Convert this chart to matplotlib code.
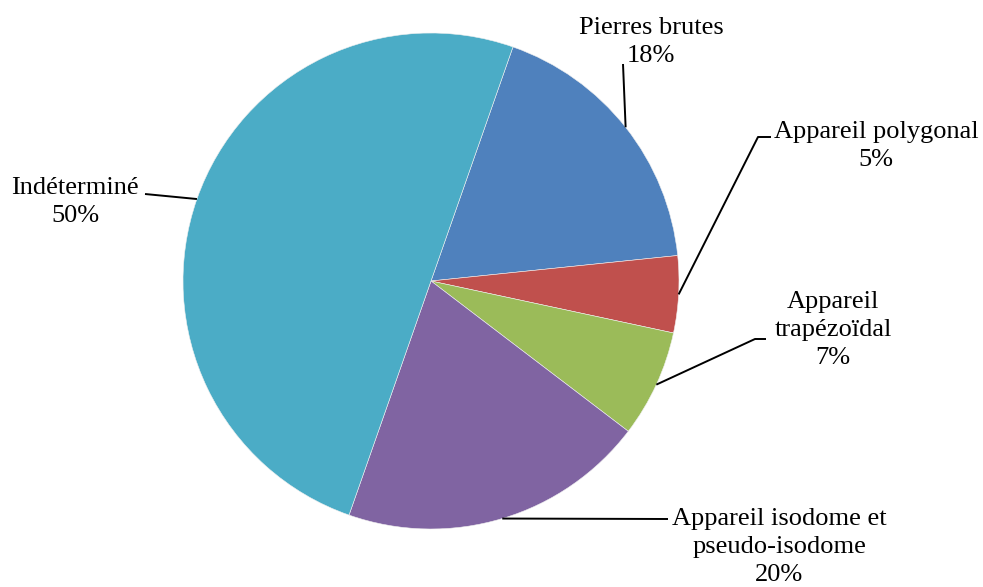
import numpy as np
import matplotlib
matplotlib.use('Agg')
import matplotlib.pyplot as plt

plt.rcParams['font.family'] = ['Liberation Serif', 'DejaVu Serif']

labels = ['Pierres brutes', 'Appareil polygonal', 'Appareil\ntrapézoïdal',
          'Appareil isodome et\npseudo-isodome', 'Indéterminé']
values = [18, 5, 7, 20, 50]
colors = ['#4F81BD', '#C0504D', '#9BBB59', '#8064A2', '#4BACC6']

W, H = 983, 587
cx, cy, r = 431, H - 281, 248
start = 19.3  # degrees clockwise from 12 o'clock

# label text centre (pixels, y down) and elbow of leader line
text_pos = [(651, 42), (876, 146), (833, 330), (779, 547), (75, 202)]
elbows = [[(623, 64)], [(758, 137), (771, 137)], [(755, 339), (766, 339)],
          [(668, 519)], [(145, 194)]]

fig = plt.figure(figsize=(W / 100, H / 100), dpi=100)
ax = fig.add_axes([0, 0, 1, 1])

ax.pie(values, colors=colors, startangle=90 - start, counterclock=False,
       center=(cx, cy), radius=r, frame=True,
       wedgeprops=dict(edgecolor='#f0f0f0', linewidth=0.4))
ax.set_xlim(0, W)
ax.set_ylim(0, H)
ax.set_aspect('equal')
ax.axis('off')

total = sum(values)
acc = start
for lab, v, tp, el in zip(labels, values, text_pos, elbows):
    mid = np.radians(acc + v / total * 360 / 2)
    acc += v / total * 360
    px = cx + r * np.sin(mid)
    py = cy + r * np.cos(mid)
    xs = [px] + [e[0] for e in el]
    ys = [py] + [H - e[1] for e in el]
    ax.plot(xs, ys, color='black', lw=1.4, solid_capstyle='butt')
    ax.text(tp[0], H - tp[1], f'{lab}\n{v}%', ha='center', va='center',
            fontsize=19, linespacing=1.34, multialignment='center')

fig.savefig('out.png', dpi=100)
